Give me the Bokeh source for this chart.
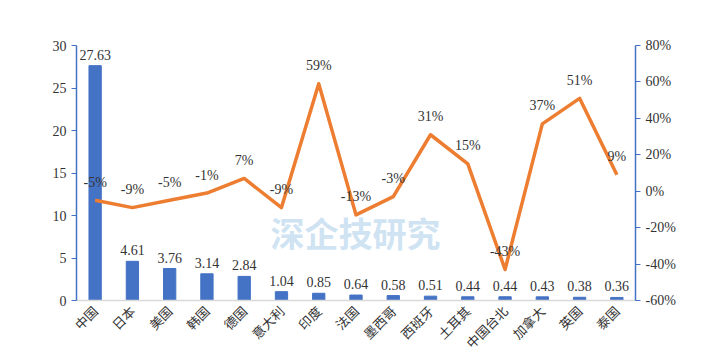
from bokeh.plotting import figure
from bokeh.models import (ColumnDataSource, Range1d, LinearAxis, FixedTicker,
                          PrintfTickFormatter, FactorRange, Label)
from bokeh.core.properties import value
from bokeh.embed import file_html
from bokeh.resources import INLINE
import math

countries = ["中国", "日本", "美国", "韩国", "德国", "意大利", "印度", "法国", "墨西哥",
             "西班牙", "土耳其", "中国台北", "加拿大", "英国", "泰国"]
sales = [27.63, 4.61, 3.76, 3.14, 2.84, 1.04, 0.85, 0.64, 0.58, 0.51, 0.44, 0.44, 0.43, 0.38, 0.36]
growth = [-5, -9, -5, -1, 7, -9, 59, -13, -3, 31, 15, -43, 37, 51, 9]
left_ticks = [0, 5, 10, 15, 20, 25, 30]
right_ticks = [-60, -40, -20, 0, 20, 40, 60, 80]

src = ColumnDataSource(dict(
    x=countries, sales=sales, growth=growth,
    sales_lbl=[f"{v:.2f}" for v in sales],
    growth_lbl=[f"{v}%" for v in growth],
))

p = figure(x_range=FactorRange(*countries), y_range=Range1d(0, 30),
           width=715, height=361, output_backend="svg", toolbar_location=None,
           min_border_left=76, min_border_right=80, min_border_top=45, min_border_bottom=58)
p.outline_line_color = None
p.xgrid.grid_line_color = None
p.ygrid.grid_line_color = None
p.background_fill_color = "white"

p.extra_y_ranges = {"pct": Range1d(-60, 80)}

BLUE = "#4472C4"
ORANGE = "#ED7D31"

# watermark
p.add_layout(Label(x=279, y=44, x_units="screen", y_units="screen", text="深企技研究",
                   text_font="Noto Sans CJK SC", text_font_size="34px",
                   text_font_style="bold", text_color="#C9DFF2", text_alpha=0.9,
                   text_align="center"))

p.vbar(x="x", top="sales", width=0.33, source=src, color=BLUE)
p.line(x="x", y="growth", source=src, y_range_name="pct", line_color=ORANGE,
       line_width=3.5, line_join="round")

p.text(x="x", y="sales", text="sales_lbl", source=src, text_align="center",
       text_baseline="bottom", y_offset=-6, text_font=value("Liberation Serif"),
       text_font_size="14px", text_color="#333333")
p.text(x="x", y="growth", text="growth_lbl", source=src, y_range_name="pct",
       text_align="center", text_baseline="middle", y_offset=-18,
       text_font=value("Liberation Serif"), text_font_size="14px", text_color="#333333")

# left axis
ya = p.yaxis[0]
ya.ticker = FixedTicker(ticks=left_ticks)
ya.axis_line_color = BLUE
ya.axis_line_width = 1.5
ya.major_tick_line_color = BLUE
ya.major_tick_out = 5
ya.major_tick_in = 0
ya.minor_tick_line_color = None
ya.major_label_text_font = "Liberation Serif"
ya.major_label_text_font_size = "14px"
ya.major_label_text_color = "#333333"

# right axis
ra = LinearAxis(y_range_name="pct", ticker=FixedTicker(ticks=right_ticks),
                formatter=PrintfTickFormatter(format="%d%%"))
ra.axis_line_color = BLUE
ra.axis_line_width = 1.5
ra.major_tick_line_color = BLUE
ra.major_tick_out = 5
ra.major_tick_in = 0
ra.minor_tick_line_color = None
ra.major_label_text_font = "Liberation Serif"
ra.major_label_text_font_size = "14px"
ra.major_label_text_color = "#333333"
p.add_layout(ra, "right")

# x axis
xa = p.xaxis[0]
xa.axis_line_color = "#D9D9D9"
xa.axis_line_width = 1.5
xa.major_tick_line_color = None
xa.minor_tick_line_color = None
xa.major_label_orientation = math.pi / 4
xa.major_label_text_font = "Noto Sans CJK SC"
xa.major_label_text_font_size = "13px"
xa.major_label_text_color = "#333333"
xa.major_label_standoff = 2

open("out.html", "w").write(file_html(p, INLINE))
